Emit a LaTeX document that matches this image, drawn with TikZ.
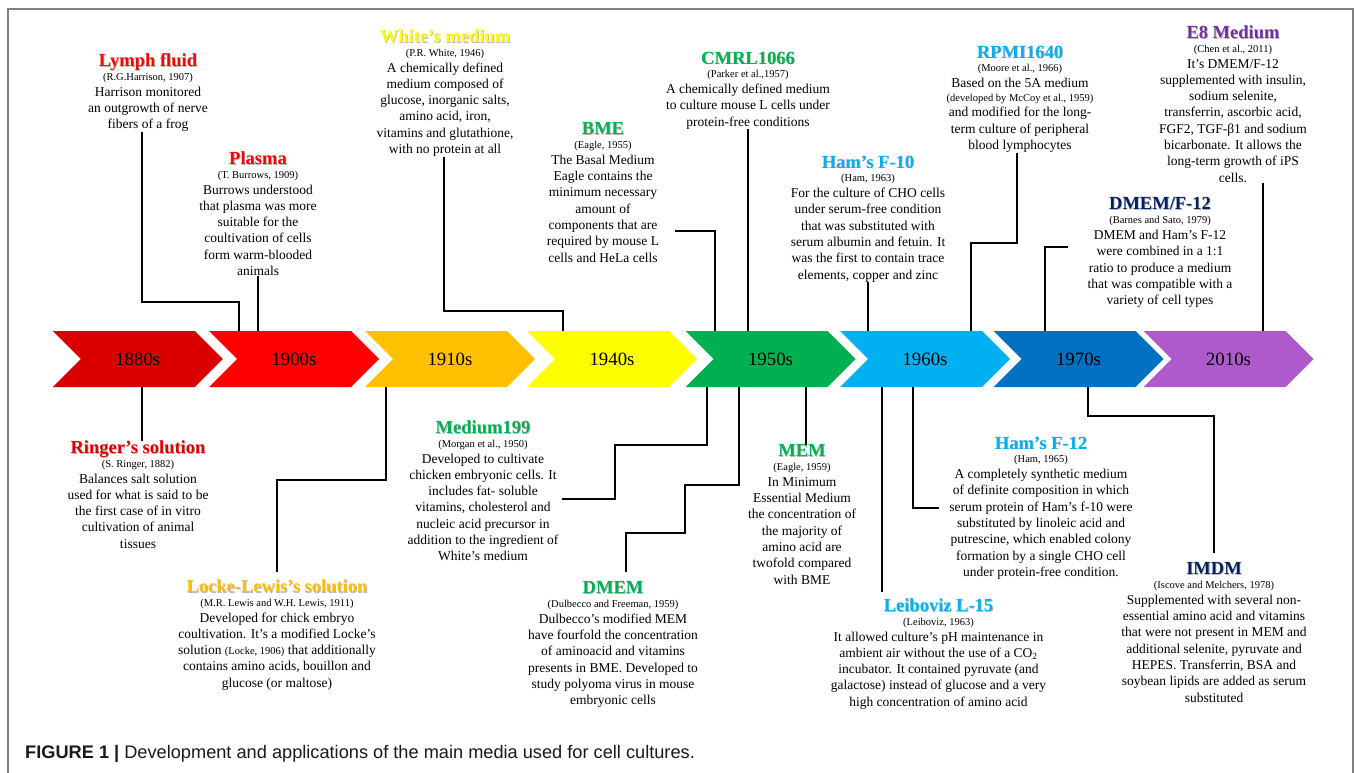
\documentclass[tikz,border=0pt]{standalone}
\usepackage{fontspec}
\setmainfont{Liberation Serif}
\newfontfamily\capfont{Liberation Sans}
\usetikzlibrary{shapes.symbols}

\definecolor{c1880}{RGB}{218,0,0}
\definecolor{c1900}{RGB}{255,0,0}
\definecolor{c1910}{RGB}{255,192,0}
\definecolor{c1940}{RGB}{255,255,0}
\definecolor{c1950}{RGB}{0,176,80}
\definecolor{c1960}{RGB}{0,176,240}
\definecolor{c1970}{RGB}{0,112,192}
\definecolor{c2010}{RGB}{174,90,204}
\definecolor{cPurple}{RGB}{112,48,160}
\definecolor{cNavy}{RGB}{0,32,96}

\newcommand{\bodyfont}{\fontsize{13.5}{16.3}\selectfont}
\newcommand{\srcfont}{\fontsize{10.5}{12}\selectfont}
% medium name with a soft drop shadow
\newcommand{\medname}[2]{{\fontsize{18.5}{20}\selectfont\bfseries\makebox[0pt][l]{\kern.8pt\raisebox{-.8pt}{\color{black!28}#2}}\textcolor{#1}{#2}}}
% name + source, then the description follows
\newcommand{\medium}[3]{\medname{#1}{#2}\\[-2.8pt]{\srcfont #3}\\[-0.3pt]}

\begin{document}
\begin{tikzpicture}[x=1pt,y=-1pt,
    era/.style={signal, signal from=west, signal to=east, signal pointer angle=90,
        minimum width=170pt, minimum height=56pt, inner sep=0pt, font=\fontsize{18.8}{20}\selectfont},
    entry/.style={align=center, inner sep=0pt, font=\bodyfont, anchor=north},
    link/.style={line width=2pt}]
    \useasboundingbox (0,0) rectangle (1354,773);
    \draw[black!50, line width=1.2pt] (8,780) -- (8,9) -- (1353,9) -- (1353,780);

    % the decades
    \node[era, fill=c1880] (e1880) at (137.8,359) {1880s};
    \node[era, fill=c1900] (e1900) at (294,359) {1900s};
    \node[era, fill=c1910] (e1910) at (450,359) {1910s};
    \node[era, fill=c1940] (e1940) at (612,359) {1940s};
    \node[era, fill=c1950] (e1950) at (770.5,359) {1950s};
    \node[era, fill=c1960] (e1960) at (925,359) {1960s};
    \node[era, fill=c1970] (e1970) at (1078.5,359) {1970s};
    \node[era, fill=c2010] (e2010) at (1228.5,359) {2010s};

    % media above the line
    \node[entry] (lymph) at (148,53.5) {\medium{c1900}{Lymph fluid}{(R.G.Harrison, 1907)}Harrison monitored\\an outgrowth of nerve\\fibers of a frog};
    \node[entry] (plasma) at (258,151.5) {\medium{c1900}{Plasma}{(T. Burrows, 1909)}Burrows understood\\that plasma was more\\suitable for the\\coultivation of cells\\form warm-blooded\\animals};
    \node[entry] (white) at (445,29.5) {\medium{c1940}{White's medium}{(P.R. White, 1946)}A chemically defined\\medium composed of\\glucose, inorganic salts,\\amino acid, iron,\\vitamins and glutathione,\\with no protein at all};
    \node[entry] (bme) at (603,122.5) {\medium{c1950}{BME}{(Eagle, 1955)}The Basal Medium\\Eagle contains the\\minimum necessary\\amount of\\components that are\\required by mouse L\\cells and HeLa cells};
    \node[entry] (cmrl) at (748,51.5) {\medium{c1950}{CMRL1066}{(Parker et al.,1957)}A chemically defined medium\\to culture mouse L cells under\\protein-free conditions};
    \node[entry] (hamf10) at (868,155.5) {\medium{c1960}{Ham's F-10}{(Ham, 1963)}For the culture of CHO cells\\under serum-free condition\\that was substituted with\\serum albumin and fetuin. It\\was the first to contain trace\\elements, copper and zinc};
    \node[entry] (rpmi) at (1020,45.5) {\medium{c1960}{RPMI1640}{(Moore et al., 1966)}Based on the 5A medium\\[-2pt]{\srcfont (developed by McCoy et al., 1959)}\\[-1.3pt]and modified for the long-\\term culture of peripheral\\blood lymphocytes};
    \node[entry] (e8) at (1233,25.5) {\medium{cPurple}{E8 Medium}{(Chen et al., 2011)}It's DMEM/F-12\\supplemented with insulin,\\sodium selenite,\\transferrin, ascorbic acid,\\FGF2, TGF-β1 and sodium\\bicarbonate. It allows the\\long-term growth of iPS\\cells.};
    \node[entry] (dmemf) at (1160,197.5) {\medium{cNavy}{DMEM/F-12}{(Barnes and Sato, 1979)}DMEM and Ham's F-12\\were combined in a 1:1\\ratio to produce a medium\\that was compatible with a\\variety of cell types};

    % media below the line
    \node[entry] (ringer) at (138,440.5) {\medium{c1880}{Ringer's solution}{(S. Ringer, 1882)}Balances salt solution\\used for what is said to be\\the first case of in vitro\\cultivation of animal\\tissues};
    \node[entry] (locke) at (277,579.5) {\medium{c1910}{Locke-Lewis's solution}{(M.R. Lewis and W.H. Lewis, 1911)}Developed for chick embryo\\coultivation. It's a modified Locke's\\solution {\srcfont (Locke, 1906)} that additionally\\contains amino acids, bouillon and\\glucose (or maltose)};
    \node[entry] (m199) at (483,420.5) {\medium{c1950}{Medium199}{(Morgan et al., 1950)}Developed to cultivate\\chicken embryonic cells. It\\includes fat- soluble\\vitamins, cholesterol and\\nucleic acid precursor in\\addition to the ingredient of\\White's medium};
    \node[entry] (dmem) at (613,581.5) {\medium{c1950}{DMEM}{(Dulbecco and Freeman, 1959)}Dulbecco's modified MEM\\have fourfold the concentration\\of aminoacid and vitamins\\presents in BME. Developed to\\study polyoma virus in mouse\\embryonic cells};
    \node[entry] (mem) at (802,444.5) {\medium{c1950}{MEM}{(Eagle, 1959)}In Minimum\\Essential Medium\\the concentration of\\the majority of\\amino acid are\\twofold compared\\with BME};
    \node[entry] (leib) at (938.5,598.5) {\medium{c1960}{Leiboviz L-15}{(Leiboviz, 1963)}It allowed culture's pH maintenance in\\ambient air without the use of a CO\textsubscript{2}\\incubator. It contained pyruvate (and\\galactose) instead of glucose and a very\\high concentration of amino acid};
    \node[entry] (hamf12) at (1041,436.5) {\medium{c1960}{Ham's F-12}{(Ham, 1965)}A completely synthetic medium\\of definite composition in which\\serum protein of Ham's f-10 were\\substituted by linoleic acid and\\putrescine, which enabled colony\\formation by a single CHO cell\\under protein-free condition.};
    \node[entry] (imdm) at (1214,562.5) {\medium{cNavy}{IMDM}{(Iscove and Melchers, 1978)}Supplemented with several non-\\essential amino acid and vitamins\\that were not present in MEM and\\additional selenite, pyruvate and\\HEPES. Transferrin, BSA and\\soybean lipids are added as serum\\substituted};

    % where the links meet the arrows
    \coordinate (lymph-ft) at ([xshift=-55pt]e1900.north);
    \coordinate (white-ft) at ([xshift=-49pt]e1940.north);
    \coordinate (bme-ft) at ([xshift=-55.5pt]e1950.north);
    \coordinate (rpmi-ft) at ([xshift=46pt]e1960.north);
    \coordinate (dmemf-ft) at ([xshift=-33.5pt]e1970.north);
    \coordinate (e8-ft) at ([xshift=34.5pt]e2010.north);
    \coordinate (ringer-ft) at ([xshift=4pt]e1880.south);
    \coordinate (locke-ft) at ([xshift=-64pt]e1910.south);
    \coordinate (m199-ft) at ([xshift=-63.5pt]e1950.south);
    \coordinate (dmem-ft) at ([xshift=-31.5pt]e1950.south);
    \coordinate (mem-ft) at ([xshift=35.5pt]e1950.south);
    \coordinate (leib-ft) at ([xshift=-43pt]e1960.south);
    \coordinate (hamf12-ft) at ([xshift=-12pt]e1960.south);
    \coordinate (imdm-ft) at ([xshift=9.5pt]e1970.south);

    \draw[link] ([xshift=-6pt]lymph.south) -- ++(0,170) -| (lymph-ft);
    \draw[link] (plasma.south) -- (plasma.south |- e1900.north);
    \draw[link] ([xshift=-1pt]white.south) -- ++(0,154) -| (white-ft);
    \draw[link] ([xshift=16pt]bme.east) ++(0,39) -| (bme-ft);
    \draw[link] (cmrl.south) -- (cmrl.south |- e1950.north);
    \draw[link] (hamf10.south) -- (hamf10.south |- e1960.north);
    \draw[link] ([xshift=-3pt]rpmi.south) -- ++(0,90) -| (rpmi-ft);
    \draw[link] (e8-ft |- e8.south) -- (e8-ft);
    \draw[link] ([xshift=-19pt]dmemf.west) ++(0,-6) -| (dmemf-ft);

    \draw[link] (ringer-ft) -- (ringer-ft |- ringer.north);
    \draw[link] ([yshift=8pt]locke.north) -- ++(0,-92) -| (locke-ft);
    \draw[link] ([xshift=3pt]m199.east) ++(0,8) -| ++(53,-54) -| (m199-ft);
    \draw[link] ([xshift=13pt,yshift=10pt]dmem.north) |- ++(59,-39) |- ++(54,-48) -- (dmem-ft);
    \draw[link] (mem-ft) -- (mem-ft |- mem.north);
    \draw[link] (leib-ft) -- ++(0,205);
    \draw[link] ([xshift=-10pt]hamf12.west) -| (hamf12-ft);
    \draw[link] ([yshift=10pt]imdm.north) -- ++(0,-137) -| (imdm-ft);

    \node[anchor=west, inner sep=0pt, text=black!90, font=\capfont\fontsize{18.2}{20}\selectfont] (caption) at (25,754)
        {\textbf{FIGURE 1 |} Development and applications of the main media used for cell cultures.};
\end{tikzpicture}
\end{document}
